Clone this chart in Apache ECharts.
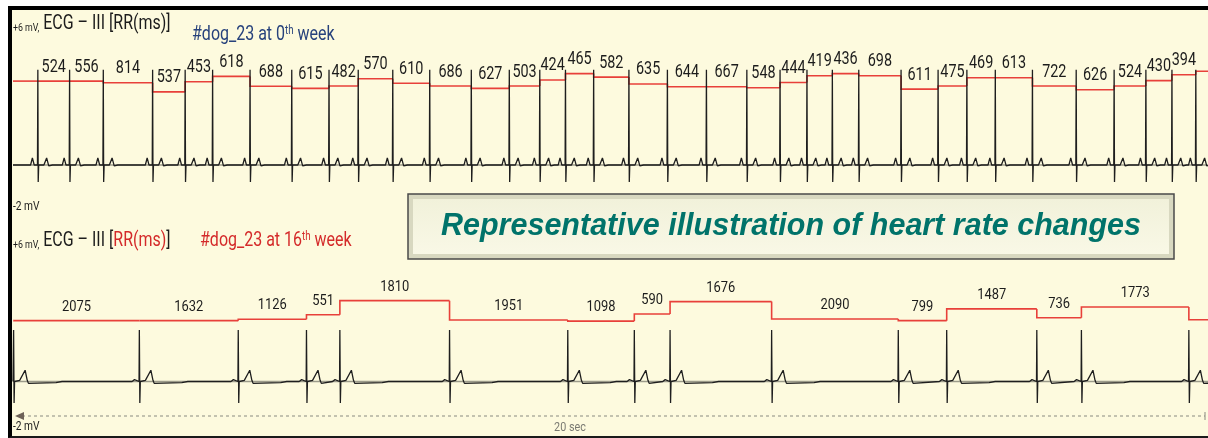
<!DOCTYPE html>
<html><head><meta charset="utf-8">
<script src="https://cdn.jsdelivr.net/npm/echarts@6/dist/echarts.min.js"></script>
<style>
html,body{margin:0;padding:0;background:#fff;}
#frame{position:absolute;left:8px;top:6px;width:1196px;height:426px;background:#fdfade;border-top:4px solid #000;border-left:4px solid #000;border-bottom:2px solid #1a1a1a;}
#chart{position:absolute;left:0;top:0;width:1208px;height:438px;}
</style></head><body>
<div id="frame"></div><div id="chart"></div>
<script>
// ---- data ----
const X_MAX = 19.72;                 // seconds visible
const topFirstBeat = 0.41;           // s, first R peak (0th week)
const topRR = [524,556,814,537,453,618,688,615,482,570,610,686,627,503,424,465,582,635,644,667,548,444,419,436,698,611,475,469,613,722,626,524,430,394];
// red RR trace level (mV scale) : before first beat, one per interval, after last beat
const topLevels = [3.57,3.57,3.57,3.50,3.11,3.54,3.77,3.35,3.26,3.36,3.67,3.48,3.36,3.26,3.36,3.62,3.89,3.74,3.45,3.33,3.33,3.29,3.51,3.80,3.89,3.80,3.23,3.36,3.71,3.71,3.36,3.20,3.36,3.59,3.84,3.99];
const bottomFirstBeat = 0.01;        // s, first R peak (16th week)
const bottomRR = [2075,1632,1126,551,1810,1951,1098,590,1676,2090,799,1487,736,1773];
const bottomLevels = [2.59,2.59,2.59,2.65,2.84,3.44,2.62,2.57,2.87,3.40,2.66,2.59,3.09,2.71,3.17,2.63];
// single-beat morphology [seconds from R peak, mV]
const topBeatShape = [[-0.12,0],[-0.09,0.3],[-0.06,0],[-0.006,0],[0,4.05],[0.006,-0.72],[0.014,0],[0.1,0],[0.145,0.3],[0.18,-0.04],[0.24,0]];
const bottomBeatShape = [[-0.12,0],[-0.08,0.08],[-0.05,0],[-0.005,0],[0,2.19],[0.008,-0.91],[0.016,0],[0.1,0.05],[0.19,0.48],[0.225,0.05],[0.245,-0.08],[0.7,-0.05],[0.8,0]];

const COND = "Roboto,'DejaVu Sans',sans-serif";

function beatTimes(first, rr){ const t=[first]; rr.forEach(r=>t.push(t[t.length-1]+r/1000)); return t; }
// one item per red segment: [start, end, level, previous level]
function stepSegments(beats, levels){
  const edges=[0,...beats,X_MAX];
  return levels.map((l,i)=>[edges[i], edges[i+1], l, i>0?levels[i-1]:l]);
}
function rrLabels(beats, rr, levels){
  return rr.map((r,i)=>[(beats[i]+beats[i+1])/2, levels[i+1], r]);
}
function trace(beats, shape){
  const pts=[];
  beats.forEach((b,i)=>{
    const next = i+1<beats.length ? beats[i+1] : Infinity;
    shape.forEach(([dt,v])=>{
      const t=b+dt;
      if(dt>0 && t>=next+shape[0][0]-0.01) return;
      if(t<0) return;
      pts.push([t,v]);
    });
  });
  if(pts.length && pts[0][0]>0) pts.unshift([0,0]);
  pts.push([X_MAX,0]);
  return pts;
}

const topBeats = beatTimes(topFirstBeat, topRR);
const botBeats = beatTimes(bottomFirstBeat, bottomRR);

function panelSeries(idx, beats, rr, levels, shape, fontSize, scaleX, dist){
  return [
    {type:'line', xAxisIndex:idx, yAxisIndex:idx, data:[[0,0],[X_MAX,0]], symbol:'none', silent:true, z:1,
     lineStyle:{color:'#9c9b8a', width:1.6}},
    {type:'line', xAxisIndex:idx, yAxisIndex:idx, data:trace(beats, shape), symbol:'none', z:3,
     lineStyle:{color:'#1e1e1e', width:1.3}},
    {type:'custom', xAxisIndex:idx, yAxisIndex:idx, data:stepSegments(beats, levels), z:2,
     encode:{x:[0,1], y:[2,3]},
     renderItem:(params, api)=>{
       const a = api.coord([api.value(0), api.value(3)]);
       const b = api.coord([api.value(0), api.value(2)]);
       const c = api.coord([api.value(1), api.value(2)]);
       return {type:'polyline', shape:{points:[a,b,c]},
         style:{stroke:'#e8403a', lineWidth:1.6, fill:null}};
     }},
    {type:'custom', xAxisIndex:idx, yAxisIndex:idx, data:rrLabels(beats, rr, levels), z:4,
     encode:{x:0, y:1},
     renderItem:(params, api)=>{
       const p = api.coord([api.value(0), api.value(1)]);
       return {type:'text', x:p[0], y:p[1]-dist, scaleX:scaleX,
         style:{text:String(api.value(2)), align:'center', verticalAlign:'bottom',
           fontSize:fontSize, fontFamily:COND, fill:'#1c1c1c'}};
     }}
  ];
}

const chart = echarts.init(document.getElementById('chart'), null, {renderer:'canvas'});
chart.setOption({
  animation:false,
  backgroundColor:'transparent',
  grid:[{left:13,right:0,top:24,height:188},{left:13,right:0,top:240.5,height:188}],
  xAxis:[{gridIndex:0,type:'value',min:0,max:X_MAX,show:false},{gridIndex:1,type:'value',min:0,max:X_MAX,show:false}],
  yAxis:[{gridIndex:0,type:'value',min:-2,max:6,show:false},{gridIndex:1,type:'value',min:-2,max:6,show:false}],
  series:[
    ...panelSeries(0, topBeats, topRR, topLevels, topBeatShape, 18, 0.8, 5),
    ...panelSeries(1, botBeats, bottomRR, bottomLevels, bottomBeatShape, 15, 0.86, 6)
  ],
  graphic:[
    {type:'text', x:13, y:24, scaleX:0.8, style:{text:'{s|+6 mV,}{b| ECG – III [RR(ms)]}', verticalAlign:'middle',
      rich:{s:{fontSize:11,fontFamily:COND,fill:'#1c1c1c',verticalAlign:'bottom'},b:{fontSize:20,fontFamily:COND,fill:'#1c1c1c',verticalAlign:'bottom'}}}},
    {type:'text', x:192, y:35, scaleX:0.8, style:{text:'#dog_23 at 0{sup|th} week', verticalAlign:'middle', fontSize:20, fontFamily:COND, fill:'#27427c',
      rich:{sup:{fontSize:12,fontFamily:COND,fill:'#27427c',verticalAlign:'top'}}}},
    {type:'text', x:13, y:207, scaleX:0.85, style:{text:'-2 mV', verticalAlign:'middle', fontSize:12, fontFamily:COND, fill:'#1c1c1c'}},
    {type:'text', x:13, y:241, scaleX:0.8, style:{text:'{s|+6 mV,}{b| ECG – III [}{r|RR(ms)}{b|]}', verticalAlign:'middle',
      rich:{s:{fontSize:11,fontFamily:COND,fill:'#1c1c1c',verticalAlign:'bottom'},b:{fontSize:20,fontFamily:COND,fill:'#1c1c1c',verticalAlign:'bottom'},r:{fontSize:20,fontFamily:COND,fill:'#d42a2a',verticalAlign:'bottom'}}}},
    {type:'text', x:200, y:241, scaleX:0.8, style:{text:'#dog_23 at 16{sup|th} week', verticalAlign:'middle', fontSize:20, fontFamily:COND, fill:'#d42a2a',
      rich:{sup:{fontSize:12,fontFamily:COND,fill:'#d42a2a',verticalAlign:'top'}}}},
    {type:'line', shape:{x1:22,y1:416,x2:1205,y2:416}, style:{stroke:'#8a8a80', lineWidth:1, lineDash:[3,3]}},
    {type:'polygon', shape:{points:[[15,416],[24,412],[24,420]]}, style:{fill:'#6e6258'}},
    {type:'line', shape:{x1:1205,y1:412,x2:1205,y2:420}, style:{stroke:'#8a8a80', lineWidth:1}},
    {type:'text', x:570, y:428, scaleX:0.9, style:{text:'20 sec', align:'center', verticalAlign:'middle', fontSize:12, fontFamily:COND, fill:'#7a7a72'}},
    {type:'text', x:13, y:427, scaleX:0.85, style:{text:'-2 mV', verticalAlign:'middle', fontSize:12, fontFamily:COND, fill:'#1c1c1c'}},
    {type:'group', children:[
      {type:'rect', shape:{x:408,y:194,width:766,height:65}, style:{fill:'#d8d8c0', stroke:'#4a4a4a', lineWidth:1.5}},
      {type:'rect', shape:{x:413,y:199,width:756,height:55},
        style:{fill:new echarts.graphic.LinearGradient(0,0,0,1,[{offset:0,color:'#f1f1da'},{offset:1,color:'#f9f8e6'}])}},
      {type:'text', x:791, y:227, style:{text:'Representative illustration of heart rate changes', align:'center', verticalAlign:'middle',
        fontSize:30.5, fontWeight:'bold', fontStyle:'italic', fontFamily:"'Liberation Sans',Arial,sans-serif", fill:'#00736a'}}
    ]}
  ]
});
</script></body></html>
